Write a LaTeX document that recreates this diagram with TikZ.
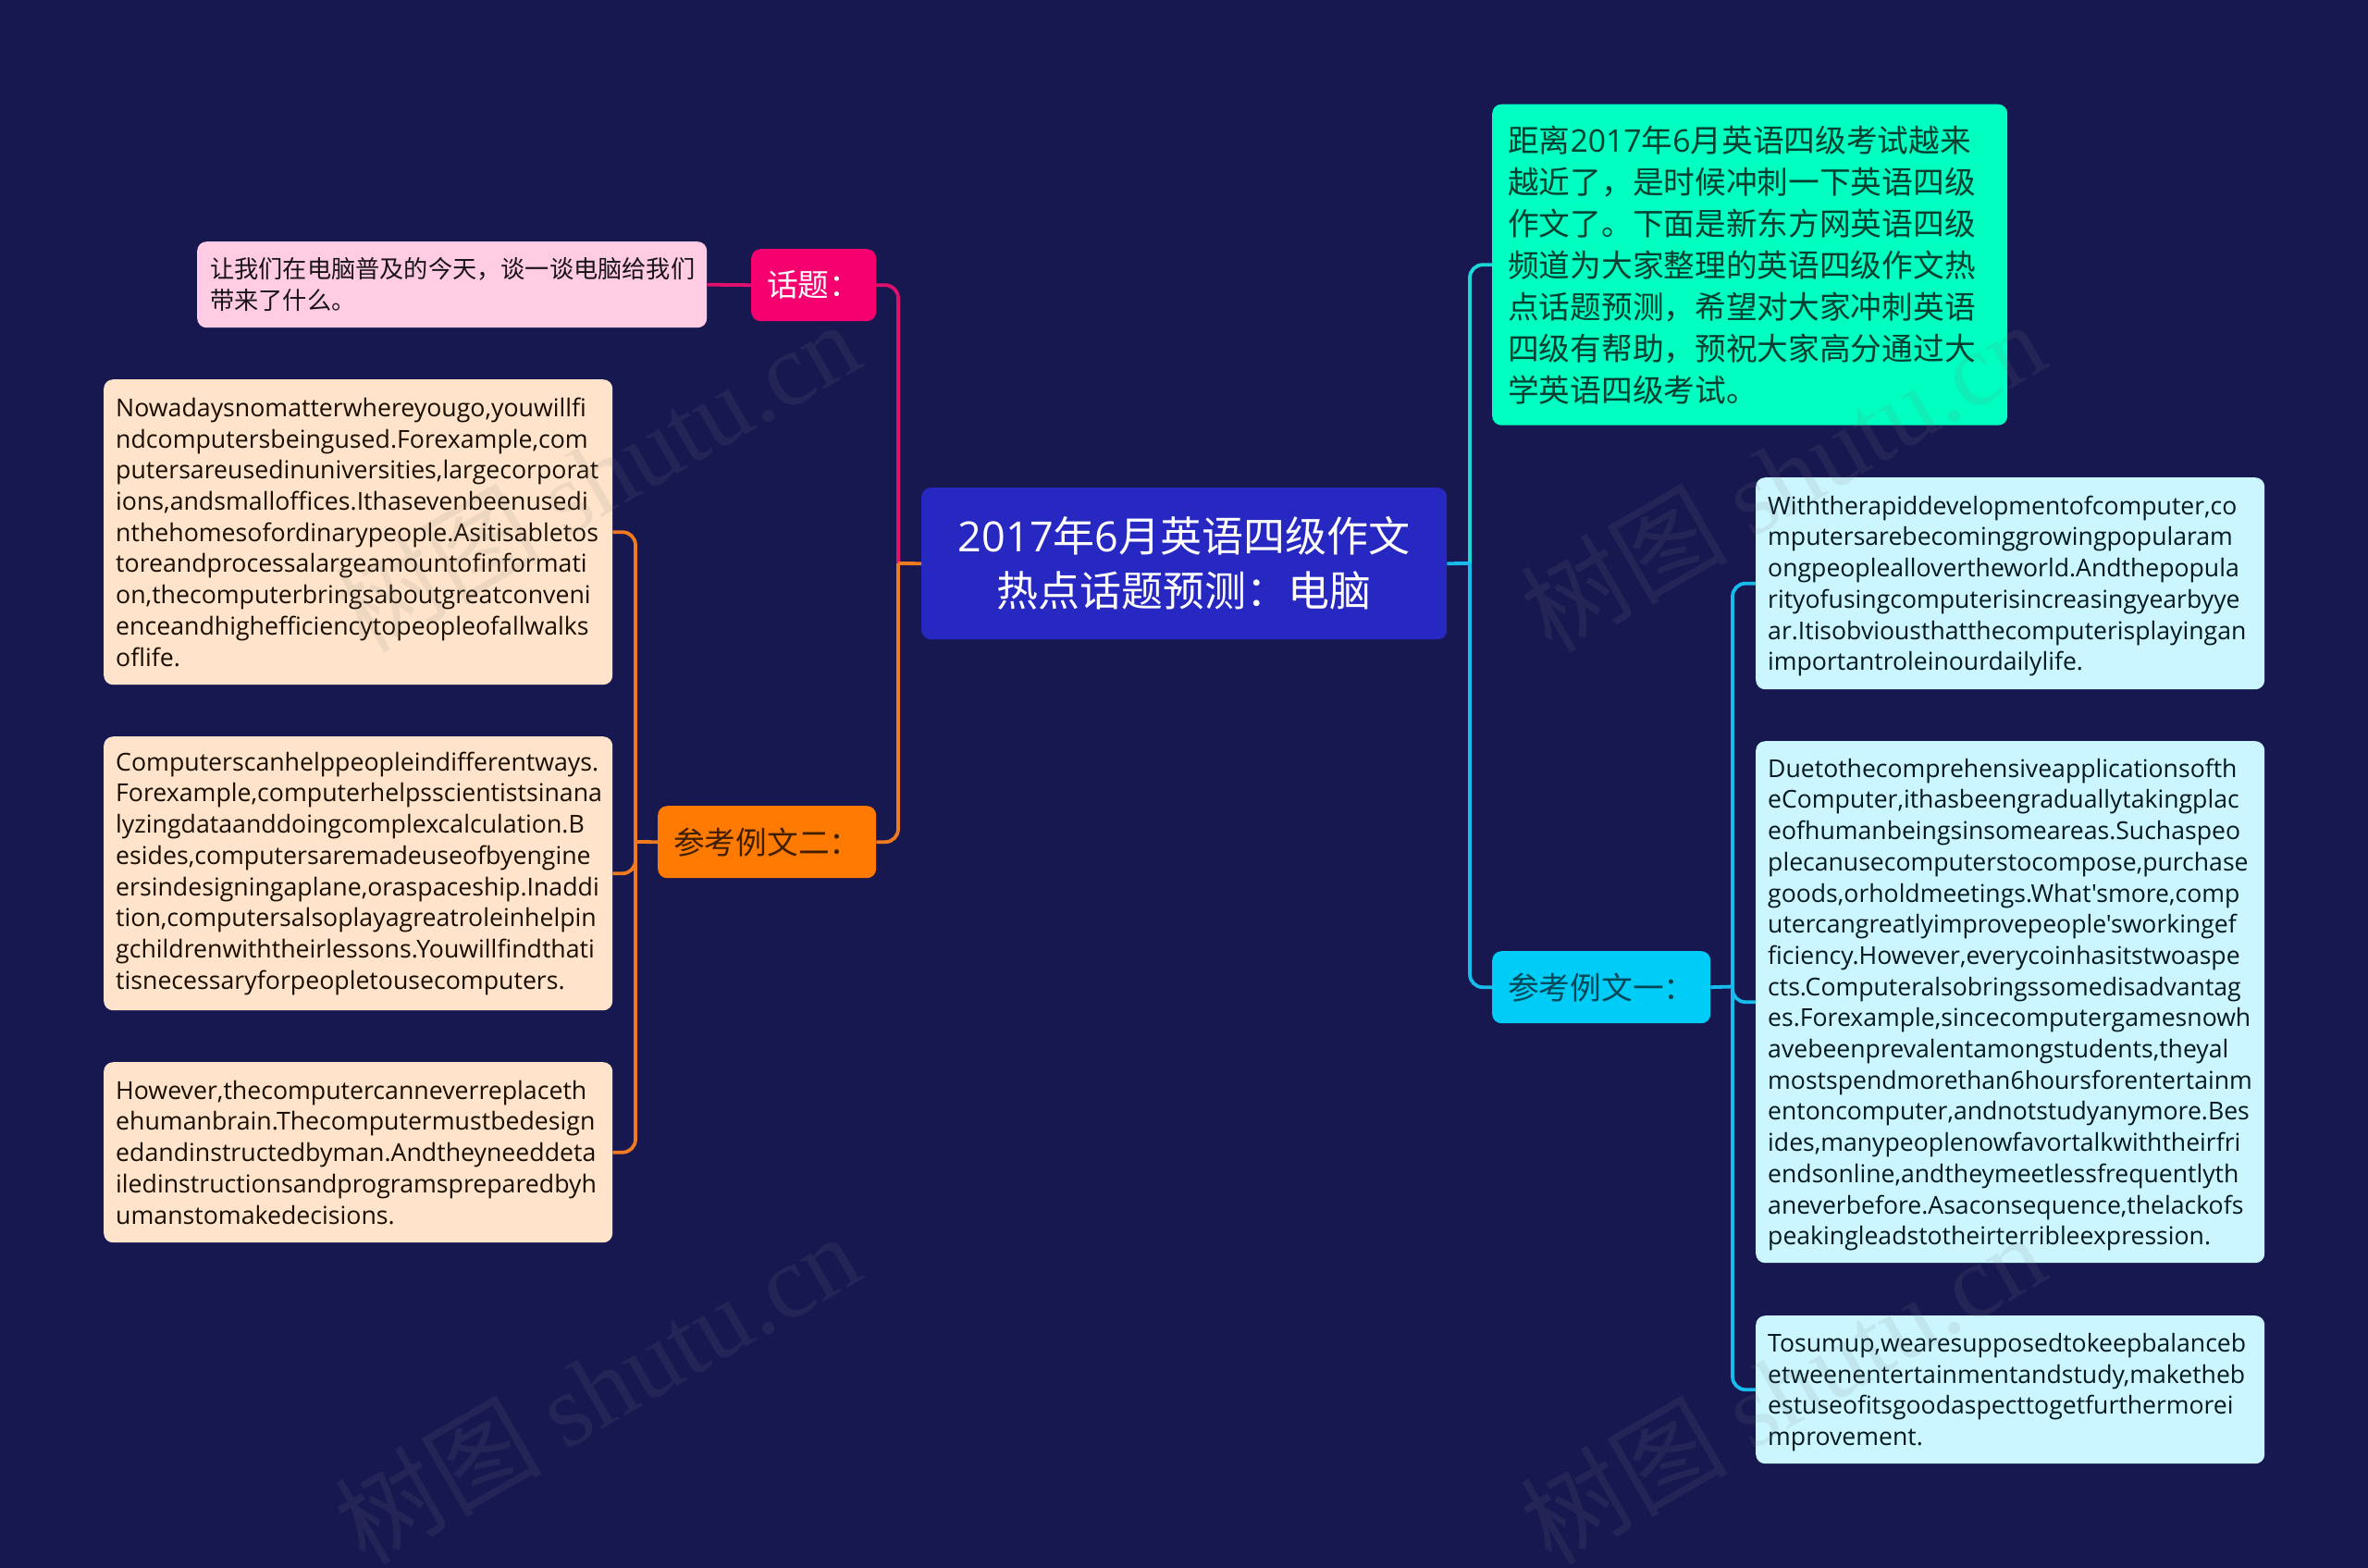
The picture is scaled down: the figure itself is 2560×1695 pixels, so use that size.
\documentclass[tikz,border=0pt]{standalone}
\usepackage{fontspec}
\setmainfont{Noto Sans CJK SC}
\newfontfamily\lat{Open Sans}[Ligatures=NoCommon]
\newfontfamily\wmlat{Liberation Serif}
\definecolor{bgc}{HTML}{171850}
\definecolor{rootc}{HTML}{2727C2}
\definecolor{greenc}{HTML}{00FFC0}
\definecolor{pinkc}{HTML}{FFCCE3}
\definecolor{peachc}{HTML}{FFE4CB}
\definecolor{lbluec}{HTML}{CCF6FF}
\definecolor{orangec}{HTML}{FF7A00}
\definecolor{bluec}{HTML}{00CCF8}
\definecolor{magc}{HTML}{F5006E}
\definecolor{magl}{HTML}{E0106E}
\definecolor{orl}{HTML}{F07A20}
\definecolor{tealc}{HTML}{18D8D8}
\definecolor{bll}{HTML}{18BCEC}
\tikzset{
 boxbase/.style={anchor=north west,rounded corners=10pt,inner ysep=0pt,align=left},
 rootbox/.style={boxbase,align=center,fill=rootc,text=white,minimum width=568pt,minimum height=164pt,font=\fontsize{45}{59}\selectfont},
 greenbox/.style={boxbase,fill=greenc,text=black!75!greenc,inner xsep=17pt,text width=523pt,minimum height=347pt,font=\fontsize{33.7}{45}\selectfont},
 pinkbox/.style={boxbase,fill=pinkc,text=black!90!pinkc,inner xsep=14pt,text width=523pt,minimum height=93pt,font=\fontsize{26.2}{34}\selectfont},
 peachbox/.style={boxbase,fill=peachc,text=black!90!orange,inner xsep=13pt,text width=524pt,font=\lat\fontsize{26.7}{33.7}\selectfont},
 lbbox/.style={boxbase,fill=lbluec,text=black!88!bluec,inner xsep=13pt,text width=524pt,font=\lat\fontsize{26.6}{33.7}\selectfont,execute at begin node={\rule{0pt}{26pt}}},
 topicbox/.style={boxbase,inner xsep=17pt,font=\fontsize{33.7}{45}\selectfont,minimum height=78pt},
 conn/.style={line width=3.8pt},
 curved/.style={conn,rounded corners=14pt},
 wm/.style={text=gray,opacity=.13,rotate=30,font=\fontsize{112}{120}\selectfont},
}
\begin{document}
\begin{tikzpicture}[x=1pt,y=-1pt]
\fill[bgc] (0,0) rectangle (2560,1695);
\useasboundingbox (0,0) rectangle (2560,1695);
\node[rootbox] (root) at (996,527) {{\lat 2017}年{\lat 6}月英语四级作文\\热点话题预测：电脑};
\node[greenbox] (intro) at (1613,112.5) {距离{\lat 2017}年{\lat 6}月英语四级考试越来\\越近了，是时候冲刺一下英语四级\\作文了。下面是新东方网英语四级\\频道为大家整理的英语四级作文热\\点话题预测，希望对大家冲刺英语\\四级有帮助，预祝大家高分通过大\\学英语四级考试。};
\node[topicbox,fill=magc,text=white,minimum width=135pt,text width=101pt] (topic) at (812,269) {话题：};
\node[pinkbox] (pk) at (213,261) {让我们在电脑普及的今天，谈一谈电脑给我们\\带来了什么。};
\node[topicbox,fill=orangec,text=black!75!orangec,text width=202pt] (ex2) at (711,871) {参考例文二：};
\node[topicbox,fill=bluec,text=black!65!bluec,text width=202pt] (ex1) at (1613,1028) {参考例文一：};
\node[peachbox,minimum height=330pt] (p1) at (112,410) {Nowadaysnomatterwhereyougo,youwillfi\\ndcomputersbeingused.Forexample,com\\putersareusedinuniversities,largecorporat\\ions,andsmalloffices.Ithasevenbeenusedi\\nthehomesofordinarypeople.Asitisabletos\\toreandprocessalargeamountofinformati\\on,thecomputerbringsaboutgreatconveni\\enceandhighefficiencytopeopleofallwalks\\oflife.};
\node[peachbox,minimum height=296pt] (p2) at (112,796) {Computerscanhelppeopleindifferentways.\\Forexample,computerhelpsscientistsinana\\lyzingdataanddoingcomplexcalculation.B\\esides,computersaremadeuseofbyengine\\ersindesigningaplane,oraspaceship.Inaddi\\tion,computersalsoplayagreatroleinhelpin\\gchildrenwiththeirlessons.Youwillfindthati\\tisnecessaryforpeopletousecomputers.};
\node[peachbox,minimum height=195pt] (p3) at (112,1148) {However,thecomputercanneverreplaceth\\ehumanbrain.Thecomputermustbedesign\\edandinstructedbyman.Andtheyneeddeta\\iledinstructionsandprogramspreparedbyh\\umanstomakedecisions.};
\node[lbbox,minimum height=229pt] (b1) at (1898,516) {Withtherapiddevelopmentofcomputer,co\\mputersarebecominggrowingpopularam\\ongpeoplealloverthe\-world.Andthepopula\\rityofusingcomputerisincreasingyearbyye\\ar.Itisobviousthatthecomputerisplayingan\\importantroleinourdailylife.};
\node[lbbox,minimum height=564pt] (b2) at (1898,801) {Duetothecomprehensiveapplicationsofth\\eComputer,ithasbeengraduallytakingplac\\eofhumanbeingsinsomeareas.Suchaspeo\\plecanusecomputerstocompose,purchase\\goods,orholdmeetings.What'smore,comp\\utercangreatlyimprovepeople'sworkingef\\ficiency.However,everycoinhasitstwoaspe\\cts.Computeralsobringssomedisadvantag\\es.Forexample,sincecomputergamesnowh\\avebeenprevalentamongstudents,theyal\\mostspendmorethan6hoursforentertainm\\entoncomputer,andnotstudyanymore.Bes\\ides,manypeoplenowfavortalkwiththeirfri\\endsonline,andtheymeetlessfrequentlyth\\aneverbefore.Asaconsequence,thelackofs\\peakingleadstotheirterribleexpression.};
\node[lbbox,minimum height=160pt] (b3) at (1898,1422) {Tosumup,wearesupposedtokeepbalanceb\\etweenentertainmentandstudy,maketheb\\estuseofitsgoodaspecttogetfurthermorei\\mprovement.};
% connectors
\coordinate (jl) at (971,609);
\coordinate (jr) at (1589,609);
\coordinate (jo) at (687,910);
\coordinate (jb) at (1873,1066.5);
\draw[curved,magl] (jl) |- (topic.east);
\draw[curved,orl] (jl) |- (ex2.east);
\draw[conn,orl] (root.west) -- (jl);
\draw[conn,magl] (topic.west) -- (pk.east);
\draw[curved,tealc] (jr) |- (intro.west);
\draw[curved,bll] (jr) |- (ex1.west);
\draw[conn,bll] (root.east) -- (jr);
\draw[conn,orl] (ex2.west) -- (jo);
\draw[curved,orl] (jo) |- (p1.east);
\draw[curved,orl] (jo) |- (p2.east);
\draw[curved,orl] (jo) |- (p3.east);
\draw[conn,bll] (ex1.east) -- (jb);
\draw[curved,bll] (jb) |- (b1.west);
\draw[curved,bll] (jb) |- (b2.west);
\draw[curved,bll] (jb) |- (b3.west);
% watermarks
\node[wm] (w1) at (645,514) {树图 {\wmlat shutu.cn}};
\node[wm] (w2) at (1927,514) {树图 {\wmlat shutu.cn}};
\node[wm] (w3) at (645,1500) {树图 {\wmlat shutu.cn}};
\node[wm] (w4) at (1927,1500) {树图 {\wmlat shutu.cn}};
\end{tikzpicture}
\end{document}
